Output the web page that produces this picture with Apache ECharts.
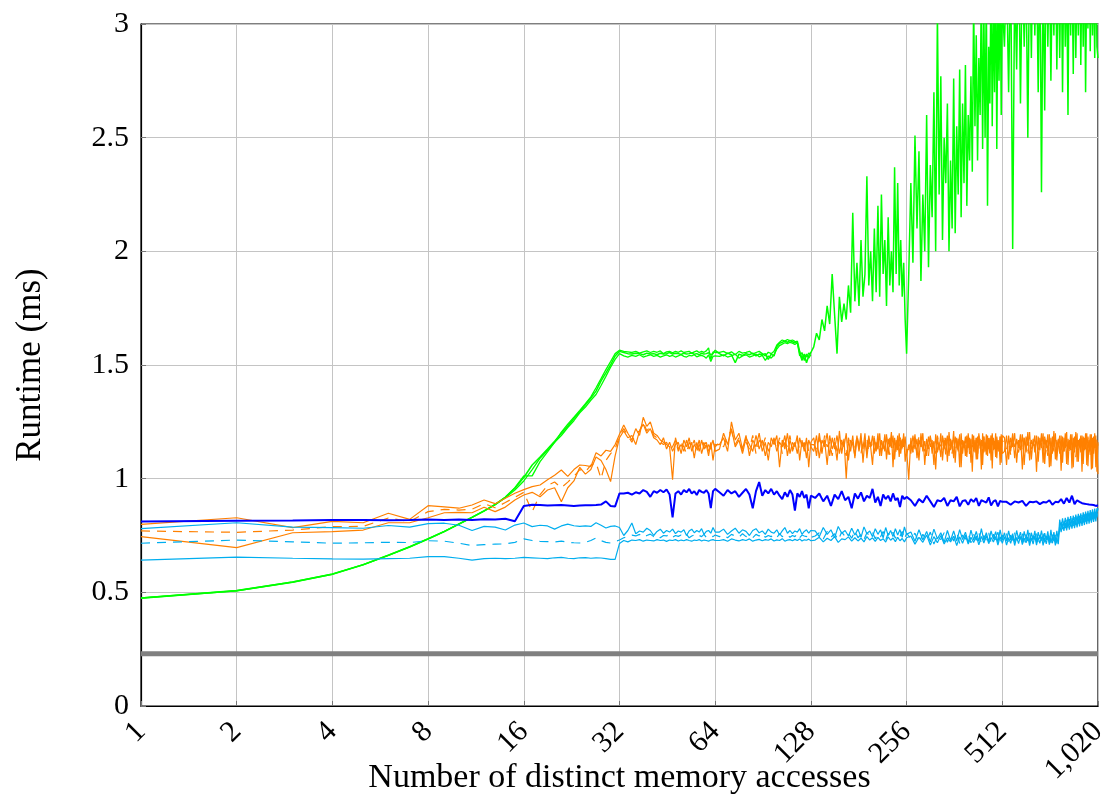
<!DOCTYPE html>
<html>
<head>
<meta charset="utf-8">
<script src="https://cdn.jsdelivr.net/npm/echarts@6/dist/echarts.min.js"></script>
<style>
  html, body { margin: 0; padding: 0; background: #fff; }
  #chart { width: 1110px; height: 794px; }
</style>
</head>
<body>
<div id="chart"></div>
<script>
// x positions 1..32 are measured one by one, beyond 32 the samples are spread
// evenly over each octave (32..64, 64..128, ...)
const xHead = [1, 2, 3, 4, 5, 6, 7, 8, 9, 10, 11, 12, 13, 14, 15, 16,
  17, 18, 19, 20, 21, 22, 23, 24, 25, 26, 27, 28, 29, 30, 31, 32]
const octaveStarts = [32, 64, 128, 256, 512]
const xTicks = [1, 2, 4, 8, 16, 32, 64, 128, 256, 512, 1024]
const xTickText = ['1', '2', '4', '8', '16', '32', '64', '128', '256', '512', '1,020']
const baseline = 0.23

// green
const greenAHead = [0.475, 0.507, 0.545, 0.580, 0.622, 0.663, 0.700, 0.735, 0.768, 0.800, 0.830, 0.858, 0.886, 0.918, 0.958, 1.005,
  1.060, 1.095, 1.130, 1.165, 1.200, 1.232, 1.265, 1.295, 1.325, 1.355, 1.385, 1.430, 1.465, 1.500, 1.540, 1.560]
const greenATail = [
  [1.555, 1.550, 1.548, 1.552, 1.550, 1.545, 1.552, 1.548, 1.550, 1.545, 1.552, 1.548, 1.550, 1.555, 1.548, 1.552,
   1.550, 1.546, 1.552, 1.548, 1.550, 1.553, 1.547, 1.550, 1.545, 1.552, 1.548, 1.550, 1.554, 1.545, 1.550, 1.565],
  [1.550, 1.540, 1.552, 1.545, 1.510, 1.548, 1.542, 1.550, 1.545, 1.552, 1.540, 1.548, 1.545, 1.550, 1.525, 1.548,
   1.540, 1.580, 1.595, 1.600, 1.605, 1.600, 1.608, 1.602, 1.598, 1.605, 1.560, 1.530, 1.545, 1.510, 1.540, 1.555],
  [1.580, 1.640, 1.610, 1.700, 1.650, 1.760, 1.680, 1.900, 1.720, 1.550, 1.800, 1.690, 1.770, 1.700, 1.850, 1.730,
   2.170, 1.780, 1.950, 1.760, 2.050, 1.800, 1.900, 2.330, 1.850, 2.000, 1.780, 2.100, 1.820, 2.200, 1.800, 2.250,
   1.900, 2.050, 1.760, 2.150, 1.850, 2.000, 1.820, 2.370, 1.900, 2.300, 1.850, 2.050, 1.800, 1.950, 1.700, 1.550],
  [1.900, 2.300, 1.950, 2.510, 2.100, 2.440, 1.870, 2.250, 2.000, 2.600, 1.930, 2.380, 2.150, 2.700, 2.000, 3.050,
   2.250, 2.770, 2.050, 2.500, 2.300, 2.650, 2.000, 2.400, 2.100, 2.760, 2.080, 2.550, 2.250, 2.800, 2.150, 2.650,
   2.300, 2.820, 2.200, 2.600, 2.400, 2.770, 2.350, 3.100, 2.550, 2.950, 2.400, 2.850, 2.600, 3.200, 2.450, 3.050,
   2.500, 3.150, 2.200, 2.900, 2.650, 3.250, 2.550, 3.100, 2.700, 3.300, 2.450, 3.150, 2.750, 3.250, 2.600, 3.100],
  [2.900, 3.250, 2.700, 3.300, 2.010, 3.200, 2.800, 3.400, 2.650, 3.300, 2.900, 3.250, 2.500, 3.350, 2.850, 3.400,
   2.950, 3.300, 2.700, 3.350, 2.260, 3.250, 2.620, 3.400, 2.900, 3.300, 2.750, 3.250, 2.950, 3.400, 2.800, 3.300,
   2.850, 3.350, 2.700, 3.300, 2.900, 3.250, 2.600, 3.400, 2.950, 3.300, 2.780, 3.350, 2.850, 3.250, 2.950, 3.400,
   2.820, 3.300, 2.900, 3.350, 2.700, 3.250, 2.980, 3.400, 2.880, 3.300, 2.950, 3.250, 2.850, 3.350, 2.900, 2.850]
]
const greenBHead = [0.476, 0.508, 0.546, 0.581, 0.622, 0.664, 0.701, 0.736, 0.768, 0.800, 0.829, 0.857, 0.885, 0.916, 0.950, 0.990,
  1.040, 1.090, 1.125, 1.160, 1.190, 1.225, 1.255, 1.290, 1.315, 1.345, 1.370, 1.410, 1.450, 1.490, 1.525, 1.550]
const greenBTail = [
  [1.540, 1.535, 1.542, 1.538, 1.545, 1.535, 1.540, 1.545, 1.538, 1.542, 1.535, 1.540, 1.545, 1.538, 1.542, 1.535,
   1.540, 1.545, 1.538, 1.535, 1.542, 1.540, 1.545, 1.536, 1.540, 1.542, 1.538, 1.530, 1.545, 1.515, 1.538, 1.540],
  [1.538, 1.545, 1.535, 1.540, 1.548, 1.530, 1.540, 1.545, 1.535, 1.540, 1.548, 1.536, 1.542, 1.520, 1.540, 1.530,
   1.545, 1.570, 1.585, 1.592, 1.598, 1.594, 1.600, 1.596, 1.590, 1.598, 1.540, 1.555, 1.520, 1.548, 1.530, 1.545]
]
const greenCHead = [0.474, 0.506, 0.544, 0.579, 0.621, 0.662, 0.699, 0.734, 0.767, 0.801, 0.831, 0.859, 0.887, 0.919, 0.960, 1.012,
  1.012, 1.075, 1.118, 1.160, 1.205, 1.240, 1.270, 1.300, 1.330, 1.360, 1.400, 1.440, 1.480, 1.515, 1.550, 1.565]
const greenCTail = [
  [1.560, 1.558, 1.555, 1.560, 1.552, 1.558, 1.562, 1.555, 1.560, 1.556, 1.562, 1.550, 1.558, 1.560, 1.554, 1.560,
   1.556, 1.562, 1.555, 1.558, 1.560, 1.552, 1.558, 1.562, 1.555, 1.560, 1.556, 1.562, 1.575, 1.525, 1.558, 1.555],
  [1.555, 1.560, 1.550, 1.558, 1.545, 1.560, 1.552, 1.556, 1.560, 1.548, 1.555, 1.560, 1.550, 1.540, 1.556, 1.550,
   1.560, 1.588, 1.600, 1.610, 1.605, 1.612, 1.606, 1.610, 1.604, 1.600, 1.550, 1.520, 1.548, 1.535, 1.552, 1.548]
]

// orange (two solid, one dashed)
const orangeAHead = [0.799, 0.828, 0.785, 0.812, 0.806, 0.848, 0.821, 0.881, 0.876, 0.870, 0.884, 0.906, 0.890, 0.914, 0.936, 0.952,
  0.965, 0.972, 0.995, 1.015, 1.038, 1.010, 1.040, 1.060, 1.058, 1.053, 1.114, 1.100, 1.125, 1.120, 1.150, 1.195]
const orangeATail = [
  [1.236, 1.200, 1.170, 1.220, 1.190, 1.270, 1.230, 1.250, 1.200, 1.190, 1.170, 1.160, 1.150, 1.140, 0.995, 1.180,
   1.130, 1.150, 1.120, 1.170, 1.130, 1.160, 1.090, 1.160, 1.120, 1.170, 1.130, 1.150, 1.100, 1.160, 1.080, 1.150],
  [1.150, 1.180, 1.120, 1.250, 1.170, 1.200, 1.130, 1.190, 1.100, 1.170, 1.140, 1.200, 1.120, 1.160, 1.080, 1.180,
   1.150, 1.190, 1.050, 1.170, 1.130, 1.200, 1.110, 1.160, 1.140, 1.190, 1.080, 1.170, 1.120, 1.180, 1.050, 1.160],
  [1.180, 1.100, 1.200, 1.120, 1.170, 1.060, 1.190, 1.130, 1.160, 1.080, 1.210, 1.110, 1.175, 1.000, 1.170, 1.120,
   1.190, 1.090, 1.180, 1.130, 1.200, 1.070, 1.170, 1.110, 1.190, 1.140, 1.060, 1.180, 1.120, 1.200, 1.100, 1.170,
   1.130, 1.195, 1.085, 1.175, 1.140, 1.205, 1.050, 1.180, 1.125, 1.190, 1.095, 1.170, 1.135, 1.200, 1.075, 1.130],
  [0.995, 1.180, 1.120, 1.195, 1.090, 1.170, 1.140, 1.200, 1.060, 1.175, 1.130, 1.190, 1.110, 1.165, 1.040, 1.185,
   1.125, 1.200, 1.080, 1.170, 1.145, 1.190, 1.100, 1.175, 1.130, 1.210, 1.070, 1.180, 1.120, 1.195, 1.050, 1.170,
   1.140, 1.185, 1.095, 1.200, 1.125, 1.175, 1.030, 1.190, 1.115, 1.180, 1.085, 1.200, 1.135, 1.170, 1.060, 1.185,
   1.120, 1.195, 1.100, 1.175, 1.145, 1.190, 1.045, 1.180, 1.130, 1.200, 1.090, 1.170, 1.120, 1.185, 1.070, 1.190],
  [1.180, 1.060, 1.190, 1.120, 1.200, 1.090, 1.175, 1.135, 1.195, 1.040, 1.180, 1.115, 1.205, 1.080, 1.170, 1.145,
   1.190, 1.030, 1.185, 1.125, 1.200, 1.070, 1.175, 1.135, 1.195, 1.050, 1.180, 1.110, 1.210, 1.085, 1.170, 1.140,
   1.190, 1.035, 1.185, 1.120, 1.200, 1.065, 1.175, 1.130, 1.195, 1.045, 1.180, 1.115, 1.205, 1.075, 1.170, 1.140,
   1.190, 1.030, 1.185, 1.125, 1.200, 1.060, 1.175, 1.135, 1.195, 1.040, 1.180, 1.110, 1.200, 1.050, 1.170, 1.020]
]
const orangeBHead = [0.745, 0.697, 0.762, 0.767, 0.774, 0.806, 0.806, 0.828, 0.850, 0.852, 0.850, 0.874, 0.855, 0.875, 0.906, 0.928,
  0.940, 0.920, 0.950, 0.960, 0.899, 0.960, 0.990, 1.050, 1.020, 1.040, 1.095, 1.080, 1.040, 0.987, 1.100, 1.180]
const orangeBTail = [
  [1.210, 1.180, 1.190, 1.150, 1.210, 1.240, 1.200, 1.220, 1.180, 1.170, 1.150, 1.180, 1.130, 1.160, 1.120, 1.150,
   1.160, 1.110, 1.170, 1.140, 1.180, 1.120, 1.150, 1.130, 1.170, 1.110, 1.150, 1.160, 1.120, 1.140, 1.170, 1.120],
  [1.130, 1.200, 1.150, 1.220, 1.140, 1.170, 1.110, 1.180, 1.150, 1.120, 1.190, 1.130, 1.170, 1.100, 1.160, 1.140,
   1.180, 1.120, 1.160, 1.140, 1.190, 1.100, 1.170, 1.130, 1.160, 1.110, 1.180, 1.140, 1.160, 1.090, 1.170, 1.140],
  [1.120, 1.190, 1.090, 1.170, 1.140, 1.200, 1.100, 1.180, 1.130, 1.190, 1.110, 1.160, 1.140, 1.200, 1.080, 1.170,
   1.150, 1.100, 1.190, 1.120, 1.180, 1.130, 1.200, 1.090, 1.170, 1.140, 1.190, 1.110, 1.160, 1.130, 1.200, 1.100,
   1.165, 1.120, 1.195, 1.105, 1.180, 1.135, 1.190, 1.085, 1.170, 1.125, 1.200, 1.110, 1.175, 1.140, 1.185, 1.100],
  [1.150, 1.110, 1.190, 1.130, 1.175, 1.080, 1.200, 1.120, 1.165, 1.100, 1.185, 1.140, 1.170, 1.060, 1.195, 1.115,
   1.160, 1.095, 1.190, 1.130, 1.180, 1.075, 1.205, 1.125, 1.170, 1.090, 1.185, 1.140, 1.175, 1.050, 1.200, 1.110,
   1.165, 1.100, 1.190, 1.135, 1.180, 1.070, 1.195, 1.120, 1.170, 1.085, 1.185, 1.145, 1.175, 1.040, 1.200, 1.115,
   1.160, 1.105, 1.190, 1.130, 1.180, 1.080, 1.200, 1.125, 1.165, 1.095, 1.185, 1.140, 1.170, 1.060, 1.195, 1.110],
  [1.120, 1.190, 1.085, 1.180, 1.140, 1.200, 1.070, 1.170, 1.125, 1.195, 1.060, 1.185, 1.145, 1.205, 1.085, 1.175,
   1.115, 1.190, 1.075, 1.180, 1.135, 1.200, 1.065, 1.170, 1.120, 1.195, 1.055, 1.185, 1.140, 1.200, 1.080, 1.175,
   1.110, 1.190, 1.070, 1.180, 1.135, 1.205, 1.060, 1.170, 1.125, 1.195, 1.050, 1.185, 1.140, 1.200, 1.075, 1.175,
   1.115, 1.190, 1.065, 1.180, 1.130, 1.200, 1.055, 1.170, 1.120, 1.195, 1.045, 1.185, 1.135, 1.190, 1.030, 1.160]
]
const orangeCHead = [0.770, 0.764, 0.774, 0.789, 0.790, 0.827, 0.812, 0.855, 0.865, 0.862, 0.866, 0.890, 0.872, 0.895, 0.918, 0.940,
  0.855, 0.930, 0.970, 0.985, 0.960, 0.985, 1.010, 1.040, 1.030, 1.060, 1.070, 1.000, 1.080, 1.110, 1.130, 1.190]
const orangeCTail = [
  [1.220, 1.190, 1.160, 1.200, 1.210, 1.250, 1.210, 1.230, 1.190, 1.180, 1.160, 1.150, 1.160, 1.130, 1.140, 1.170,
   1.120, 1.160, 1.140, 1.110, 1.160, 1.140, 1.170, 1.120, 1.150, 1.130, 1.160, 1.120, 1.150, 1.130, 1.160, 1.140],
  [1.160, 1.140, 1.190, 1.210, 1.150, 1.180, 1.120, 1.160, 1.130, 1.190, 1.110, 1.170, 1.140, 1.180, 1.120, 1.150,
   1.170, 1.130, 1.180, 1.110, 1.160, 1.140, 1.190, 1.120, 1.150, 1.170, 1.130, 1.160, 1.140, 1.170, 1.120, 1.150],
  [1.150, 1.130, 1.180, 1.110, 1.190, 1.140, 1.160, 1.100, 1.180, 1.120, 1.150, 1.170, 1.130, 1.100, 1.180, 1.140,
   1.160, 1.120, 1.190, 1.150, 1.110, 1.170, 1.140, 1.180, 1.120, 1.160, 1.130, 1.190, 1.110, 1.170, 1.150, 1.120,
   1.160, 1.125, 1.185, 1.140, 1.105, 1.175, 1.135, 1.180, 1.115, 1.165, 1.130, 1.190, 1.120, 1.170, 1.145, 1.125],
  [1.130, 1.165, 1.115, 1.180, 1.105, 1.190, 1.140, 1.155, 1.120, 1.175, 1.100, 1.185, 1.130, 1.160, 1.110, 1.190,
   1.140, 1.150, 1.120, 1.180, 1.100, 1.190, 1.130, 1.165, 1.110, 1.180, 1.125, 1.150, 1.120, 1.190, 1.100, 1.170,
   1.135, 1.160, 1.115, 1.185, 1.105, 1.175, 1.140, 1.150, 1.120, 1.180, 1.095, 1.190, 1.130, 1.165, 1.110, 1.185,
   1.140, 1.155, 1.120, 1.180, 1.100, 1.190, 1.135, 1.160, 1.115, 1.175, 1.125, 1.155, 1.120, 1.185, 1.100, 1.170],
  [1.150, 1.130, 1.170, 1.105, 1.180, 1.140, 1.160, 1.115, 1.170, 1.120, 1.185, 1.150, 1.100, 1.170, 1.130, 1.160,
   1.140, 1.180, 1.110, 1.165, 1.150, 1.120, 1.185, 1.140, 1.100, 1.170, 1.145, 1.160, 1.120, 1.180, 1.090, 1.155,
   1.145, 1.125, 1.175, 1.105, 1.185, 1.135, 1.160, 1.115, 1.170, 1.125, 1.180, 1.150, 1.095, 1.170, 1.130, 1.165,
   1.140, 1.180, 1.110, 1.160, 1.150, 1.120, 1.185, 1.140, 1.105, 1.170, 1.140, 1.160, 1.120, 1.180, 1.080, 1.150]
]

// cyan (top solid, dashed, bottom solid)
const cyanAHead = [0.780, 0.806, 0.787, 0.785, 0.782, 0.794, 0.787, 0.802, 0.804, 0.795, 0.772, 0.790, 0.787, 0.774, 0.796, 0.805,
  0.789, 0.795, 0.792, 0.778, 0.792, 0.800, 0.793, 0.790, 0.792, 0.790, 0.806, 0.795, 0.783, 0.790, 0.792, 0.785]
const cyanATail = [
  [0.750, 0.772, 0.805, 0.758, 0.770, 0.765, 0.782, 0.772, 0.750, 0.768, 0.778, 0.760, 0.772, 0.765, 0.778, 0.758,
   0.770, 0.765, 0.775, 0.750, 0.770, 0.778, 0.762, 0.772, 0.765, 0.780, 0.755, 0.768, 0.772, 0.760, 0.785, 0.765],
  [0.765, 0.778, 0.755, 0.770, 0.782, 0.760, 0.775, 0.768, 0.750, 0.772, 0.780, 0.762, 0.770, 0.755, 0.778, 0.765,
   0.760, 0.775, 0.752, 0.770, 0.785, 0.760, 0.772, 0.758, 0.770, 0.765, 0.780, 0.755, 0.768, 0.775, 0.760, 0.772],
  [0.770, 0.745, 0.785, 0.755, 0.775, 0.740, 0.790, 0.760, 0.772, 0.748, 0.782, 0.752, 0.778, 0.742, 0.788, 0.758,
   0.770, 0.745, 0.780, 0.755, 0.775, 0.740, 0.785, 0.750, 0.772, 0.745, 0.780, 0.752, 0.776, 0.742, 0.788, 0.755],
  [0.765, 0.725, 0.775, 0.730, 0.768, 0.722, 0.778, 0.735, 0.762, 0.720, 0.772, 0.728, 0.770, 0.725, 0.776, 0.732,
   0.765, 0.718, 0.774, 0.730, 0.768, 0.724, 0.780, 0.728, 0.762, 0.722, 0.770, 0.733, 0.767, 0.720, 0.775, 0.730],
  [0.762, 0.725, 0.770, 0.730, 0.758, 0.720, 0.772, 0.735, 0.765, 0.722, 0.768, 0.728, 0.775, 0.718, 0.762, 0.732,
   0.770, 0.720, 0.765, 0.735, 0.772, 0.724, 0.760, 0.730, 0.768, 0.718, 0.775, 0.728, 0.765, 0.722, 0.770, 0.730,
   0.820, 0.785, 0.825, 0.790, 0.828, 0.788, 0.832, 0.795, 0.835, 0.798, 0.838, 0.800, 0.842, 0.805, 0.845, 0.808,
   0.848, 0.810, 0.852, 0.815, 0.855, 0.818, 0.858, 0.820, 0.862, 0.825, 0.865, 0.828, 0.868, 0.832, 0.870, 0.860]
]
const cyanBHead = [0.716, 0.730, 0.722, 0.716, 0.718, 0.720, 0.719, 0.727, 0.725, 0.716, 0.706, 0.710, 0.712, 0.713, 0.720, 0.735,
  0.728, 0.724, 0.723, 0.722, 0.725, 0.720, 0.718, 0.717, 0.720, 0.728, 0.739, 0.727, 0.720, 0.717, 0.724, 0.730]
const cyanBTail = [
  [0.740, 0.745, 0.752, 0.748, 0.755, 0.742, 0.750, 0.756, 0.745, 0.752, 0.740, 0.750, 0.748, 0.755, 0.742, 0.750,
   0.746, 0.752, 0.745, 0.755, 0.740, 0.748, 0.752, 0.744, 0.750, 0.745, 0.755, 0.742, 0.750, 0.748, 0.745, 0.752],
  [0.745, 0.752, 0.740, 0.755, 0.748, 0.742, 0.758, 0.745, 0.750, 0.740, 0.755, 0.748, 0.760, 0.742, 0.750, 0.745,
   0.752, 0.740, 0.758, 0.745, 0.750, 0.755, 0.742, 0.750, 0.745, 0.758, 0.740, 0.752, 0.748, 0.745, 0.755, 0.742],
  [0.748, 0.762, 0.735, 0.768, 0.742, 0.758, 0.730, 0.765, 0.745, 0.760, 0.738, 0.770, 0.740, 0.755, 0.732, 0.762,
   0.748, 0.765, 0.736, 0.758, 0.744, 0.768, 0.730, 0.760, 0.742, 0.764, 0.738, 0.757, 0.746, 0.768, 0.734, 0.760],
  [0.735, 0.760, 0.718, 0.755, 0.728, 0.765, 0.712, 0.750, 0.732, 0.762, 0.720, 0.757, 0.726, 0.766, 0.715, 0.752,
   0.734, 0.760, 0.718, 0.755, 0.729, 0.764, 0.713, 0.750, 0.730, 0.761, 0.719, 0.756, 0.727, 0.765, 0.716, 0.752],
  [0.735, 0.758, 0.715, 0.752, 0.728, 0.762, 0.712, 0.748, 0.732, 0.760, 0.718, 0.755, 0.725, 0.762, 0.714, 0.750,
   0.730, 0.758, 0.716, 0.752, 0.728, 0.760, 0.712, 0.748, 0.734, 0.762, 0.718, 0.755, 0.726, 0.760, 0.715, 0.750,
   0.775, 0.812, 0.778, 0.815, 0.782, 0.820, 0.785, 0.822, 0.790, 0.826, 0.792, 0.830, 0.796, 0.834, 0.800, 0.836,
   0.804, 0.840, 0.806, 0.843, 0.810, 0.846, 0.814, 0.850, 0.818, 0.852, 0.822, 0.856, 0.825, 0.860, 0.830, 0.862]
]
const cyanCHead = [0.642, 0.655, 0.650, 0.647, 0.646, 0.648, 0.650, 0.657, 0.657, 0.650, 0.642, 0.648, 0.650, 0.648, 0.650, 0.654,
  0.652, 0.650, 0.648, 0.652, 0.654, 0.650, 0.648, 0.652, 0.653, 0.650, 0.652, 0.651, 0.648, 0.645, 0.645, 0.715]
const cyanCTail = [
  [0.728, 0.722, 0.730, 0.728, 0.732, 0.725, 0.730, 0.728, 0.726, 0.732, 0.728, 0.730, 0.724, 0.730, 0.728, 0.732,
   0.726, 0.730, 0.727, 0.732, 0.728, 0.725, 0.730, 0.728, 0.732, 0.726, 0.730, 0.728, 0.725, 0.730, 0.732, 0.728],
  [0.728, 0.732, 0.725, 0.735, 0.730, 0.726, 0.732, 0.728, 0.735, 0.725, 0.730, 0.733, 0.727, 0.732, 0.729, 0.735,
   0.726, 0.731, 0.728, 0.736, 0.725, 0.730, 0.732, 0.727, 0.733, 0.728, 0.735, 0.726, 0.731, 0.729, 0.734, 0.727],
  [0.730, 0.742, 0.722, 0.738, 0.728, 0.745, 0.720, 0.735, 0.732, 0.744, 0.725, 0.740, 0.726, 0.738, 0.722, 0.745,
   0.730, 0.740, 0.724, 0.742, 0.728, 0.736, 0.721, 0.744, 0.729, 0.739, 0.723, 0.742, 0.727, 0.737, 0.722, 0.740],
  [0.748, 0.712, 0.742, 0.720, 0.752, 0.708, 0.745, 0.718, 0.750, 0.713, 0.740, 0.722, 0.747, 0.706, 0.744, 0.716,
   0.751, 0.712, 0.742, 0.719, 0.748, 0.709, 0.746, 0.717, 0.749, 0.714, 0.741, 0.721, 0.746, 0.708, 0.745, 0.716],
  [0.745, 0.708, 0.740, 0.716, 0.748, 0.706, 0.742, 0.714, 0.746, 0.710, 0.738, 0.718, 0.744, 0.705, 0.740, 0.712,
   0.748, 0.708, 0.742, 0.715, 0.745, 0.706, 0.740, 0.713, 0.747, 0.710, 0.739, 0.716, 0.744, 0.707, 0.741, 0.712,
   0.798, 0.765, 0.802, 0.770, 0.806, 0.772, 0.810, 0.776, 0.812, 0.780, 0.816, 0.782, 0.820, 0.786, 0.824, 0.790,
   0.826, 0.792, 0.830, 0.796, 0.834, 0.800, 0.836, 0.802, 0.840, 0.806, 0.844, 0.810, 0.846, 0.812, 0.850, 0.870]
]

// blue
const blueHead = [0.812, 0.815, 0.816, 0.818, 0.818, 0.817, 0.818, 0.820, 0.818, 0.820, 0.818, 0.822, 0.820, 0.824, 0.813, 0.880,
  0.885, 0.884, 0.882, 0.883, 0.884, 0.882, 0.880, 0.882, 0.883, 0.883, 0.884, 0.886, 0.900, 0.880, 0.878, 0.935]
const blueTail = [
  [0.935, 0.938, 0.930, 0.940, 0.935, 0.950, 0.942, 0.920, 0.945, 0.938, 0.950, 0.940, 0.952, 0.930, 0.830, 0.935,
   0.945, 0.930, 0.950, 0.940, 0.955, 0.935, 0.945, 0.928, 0.950, 0.942, 0.938, 0.950, 0.935, 0.870, 0.945, 0.955],
  [0.940, 0.925, 0.950, 0.935, 0.945, 0.920, 0.938, 0.955, 0.930, 0.870, 0.945, 0.985, 0.925, 0.950, 0.935, 0.955,
   0.930, 0.945, 0.925, 0.910, 0.940, 0.920, 0.950, 0.930, 0.860, 0.935, 0.920, 0.945, 0.915, 0.930, 0.870, 0.925],
  [0.915, 0.935, 0.900, 0.925, 0.880, 0.930, 0.910, 0.945, 0.905, 0.920, 0.870, 0.935, 0.912, 0.940, 0.900, 0.925,
   0.915, 0.955, 0.895, 0.920, 0.880, 0.930, 0.910, 0.925, 0.900, 0.935, 0.905, 0.915, 0.875, 0.925, 0.910, 0.920],
  [0.905, 0.880, 0.910, 0.895, 0.925, 0.900, 0.875, 0.905, 0.900, 0.915, 0.880, 0.905, 0.900, 0.920, 0.878, 0.902,
   0.905, 0.885, 0.910, 0.898, 0.915, 0.880, 0.905, 0.900, 0.895, 0.918, 0.882, 0.900, 0.905, 0.878, 0.902, 0.898],
  [0.898, 0.885, 0.900, 0.895, 0.902, 0.880, 0.898, 0.896, 0.900, 0.888, 0.897, 0.895, 0.905, 0.885, 0.898, 0.896,
   0.910, 0.890, 0.915, 0.895, 0.925, 0.888, 0.905, 0.898, 0.892, 0.890, 0.888, 0.886, 0.885, 0.884, 0.880, 0.883]
]

const GREEN = '#00ff00'
const ORANGE = '#ff8000'
const CYAN = '#00aeef'
const BLUE = '#0000ff'
const GRAY = '#808080'
const FONT = '"Liberation Serif", "DejaVu Serif", serif'

function points(head, tail) {
  const pts = head.map((v, i) => [xHead[i], v])
  tail.forEach((seg, k) => {
    const lo = octaveStarts[k]
    seg.forEach((v, j) => {
      pts.push([lo + (j + 1) * lo / seg.length, v])
    })
  })
  return pts
}

function line(data, color, width, dashed) {
  return {
    type: 'line',
    data: data,
    symbol: 'none',
    silent: true,
    clip: true,
    lineStyle: {
      color: color,
      width: width,
      type: dashed ? [9, 7] : 'solid'
    }
  }
}

const chart = echarts.init(document.getElementById('chart'))

const option = {
  animation: false,
  backgroundColor: '#fff',
  grid: {
    left: 141,
    right: 12,
    top: 24,
    bottom: 88,
    containLabel: false,
    outerBoundsMode: 'none',
    show: true,
    borderColor: '#000',
    borderWidth: 1.2
  },
  xAxis: {
    type: 'log',
    logBase: 2,
    min: 1,
    max: 1024,
    interval: 1,
    splitNumber: 10,
    name: 'Number of distinct memory accesses',
    nameLocation: 'middle',
    nameGap: 55,
    nameMoveOverlap: false,
    nameTextStyle: { fontFamily: FONT, fontSize: 34, color: '#000' },
    axisLine: { show: true, lineStyle: { color: '#000', width: 1.2 } },
    axisTick: { show: true, inside: true, length: 5, lineStyle: { color: '#777' } },
    splitLine: { show: true, lineStyle: { color: '#c4c4c4', width: 1 } },
    axisLabel: {
      rotate: 45,
      margin: 21,
      fontFamily: FONT,
      fontSize: 30,
      color: '#000',
      showMinLabel: true,
      showMaxLabel: true,
      hideOverlap: false,
      interval: 0,
      formatter: function (v) {
        const i = xTicks.indexOf(Math.round(v))
        return i >= 0 ? xTickText[i] : ''
      }
    }
  },
  yAxis: {
    type: 'value',
    min: 0,
    max: 3,
    interval: 0.5,
    name: 'Runtime (ms)',
    nameLocation: 'middle',
    nameGap: 93,
    nameTextStyle: { fontFamily: FONT, fontSize: 35, color: '#000' },
    axisLine: { show: true, lineStyle: { color: '#000', width: 1.2 } },
    axisTick: { show: true, inside: true, length: 5, lineStyle: { color: '#777' } },
    splitLine: { show: true, lineStyle: { color: '#c4c4c4', width: 1 } },
    axisLabel: {
      margin: 12,
      fontFamily: FONT,
      fontSize: 30,
      color: '#000'
    }
  },
  series: [
    line([[xTicks[0], baseline], [xTicks[xTicks.length - 1], baseline]], GRAY, 5, false),
    line(points(greenBHead, greenBTail), GREEN, 1.3, false),
    line(points(greenCHead, greenCTail), GREEN, 1.3, false),
    line(points(greenAHead, greenATail), GREEN, 1.5, false),
    line(points(orangeAHead, orangeATail), ORANGE, 1.2, false),
    line(points(orangeBHead, orangeBTail), ORANGE, 1.2, false),
    line(points(orangeCHead, orangeCTail), ORANGE, 1.2, true),
    line(points(cyanAHead, cyanATail), CYAN, 1.2, false),
    line(points(cyanBHead, cyanBTail), CYAN, 1.2, true),
    line(points(cyanCHead, cyanCTail), CYAN, 1.2, false),
    line(points(blueHead, blueTail), BLUE, 2, false)
  ]
}

chart.setOption(option)
</script>
</body>
</html>
